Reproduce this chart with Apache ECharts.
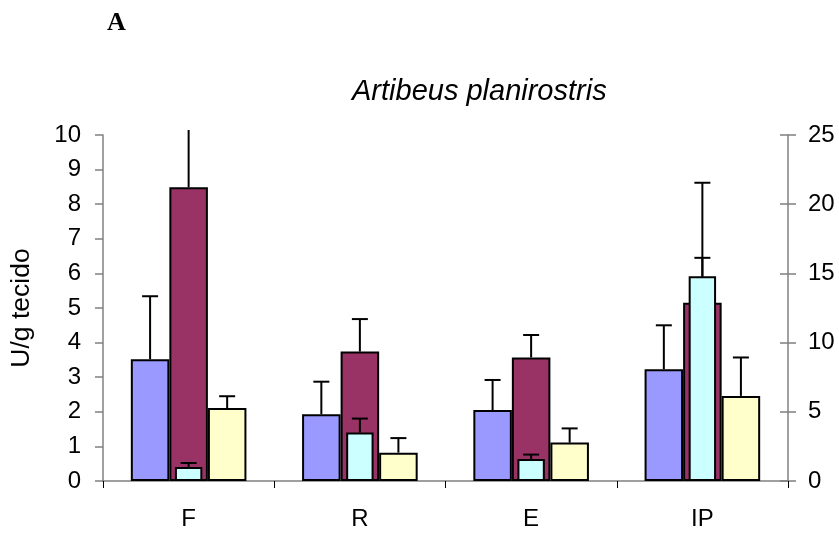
<!DOCTYPE html>
<html>
<head>
<meta charset="utf-8">
<script src="https://cdn.jsdelivr.net/npm/echarts@6/dist/echarts.min.js"></script>
<style>html,body{margin:0;padding:0;background:#fff}#c{width:839px;height:536px}</style>
</head>
<body>
<div id="c"></div>
<script>
// ---- data ----
var categories = ['F', 'R', 'E', 'IP'];
var leftTicks = [0, 1, 2, 3, 4, 5, 6, 7, 8, 9, 10];
var rightTicks = [0, 5, 10, 15, 20, 25];
// primary (left axis, U/g tecido)
var blueVals   = [3.52, 1.93, 2.05, 3.23];
var blueErr    = [1.82, 0.94, 0.87, 1.27];
var maroonVals = [8.49, 3.74, 3.57, 5.15];
var maroonErr  = [2.30, 0.94, 0.65, 1.30];
var yellowVals = [2.11, 0.82, 1.11, 2.46];
var yellowErr  = [0.34, 0.42, 0.41, 1.11];
// secondary (right axis)
var cyanVals   = [1.01, 3.50, 1.59, 14.80];
var cyanErr    = [0.29, 1.01, 0.32, 6.75];

var FONT = '"Liberation Sans", Arial, sans-serif';
var BAR_FRAC = 0.225;   // width of each primary bar as share of category
var CYAN_FRAC = 0.16;

function errSeries(vals, errs, xIdx, yIdx, slot, z) {
  var data = vals.map(function (v, i) { return [i, v, v + errs[i]]; });
  return {
    type: 'custom',
    xAxisIndex: xIdx,
    yAxisIndex: yIdx,
    z: z,
    silent: true,
    data: data,
    encode: { x: 0, y: [1, 2] },
    renderItem: function (params, api) {
      var cat = api.value(0);
      var base = api.coord([cat, api.value(1)]);
      var top = api.coord([cat, api.value(2)]);
      var catW = api.size([1, 0])[0];
      var x = base[0] + slot * catW * BAR_FRAC;
      var cs = params.coordSys;
      var minY = cs.y - 5;
      var capped = true;
      var ty = top[1];
      if (ty < minY) { ty = minY; capped = false; }
      var children = [{
        type: 'line',
        shape: { x1: x, y1: base[1], x2: x, y2: ty },
        style: { stroke: '#000', lineWidth: 2 }
      }];
      if (capped) {
        children.push({
          type: 'line',
          shape: { x1: x - 8, y1: ty, x2: x + 8, y2: ty },
          style: { stroke: '#000', lineWidth: 2 }
        });
      }
      return { type: 'group', children: children };
    }
  };
}

function barSeries(name, vals, color, xIdx, yIdx, width, z) {
  return {
    name: name,
    type: 'bar',
    xAxisIndex: xIdx,
    yAxisIndex: yIdx,
    data: vals,
    barWidth: width,
    barGap: '0%',
    z: z,
    itemStyle: { color: color, borderColor: '#000', borderWidth: 2 },
    emphasis: { disabled: true }
  };
}

var chart = echarts.init(document.getElementById('c'), null, { renderer: 'canvas' });
var axisGrey = '#808080';
chart.setOption({
  animation: false,
  backgroundColor: '#fff',
  title: {
    text: 'Artibeus planirostris',
    left: 347, top: 72,
    textStyle: { fontFamily: FONT, fontStyle: 'italic', fontWeight: 'normal', fontSize: 29, color: '#000' }
  },
  graphic: [{
    type: 'text', left: 107, top: 10,
    style: { text: 'A', fontFamily: '"Liberation Serif", "Times New Roman", serif', fontWeight: 'bold', fontSize: 26, fill: '#000' }
  }],
  grid: { left: 103, right: 51, top: 135, bottom: 55, containLabel: false },
  xAxis: [{
    type: 'category',
    data: categories,
    boundaryGap: true,
    axisLine: { lineStyle: { color: axisGrey, width: 1.5 } },
    axisTick: { show: true, alignWithLabel: false, length: 7, lineStyle: { color: '#000', width: 1 } },
    axisLabel: { color: '#000', fontFamily: FONT, fontSize: 24, margin: 26 },
    splitLine: { show: false }
  }, {
    type: 'category',
    data: categories,
    show: false,
    gridIndex: 0
  }],
  yAxis: [{
    type: 'value', min: 0, max: 10, interval: 1, position: 'left',
    name: 'U/g tecido', nameLocation: 'middle', nameGap: 68, nameRotate: 90,
    nameTextStyle: { color: '#000', fontFamily: FONT, fontSize: 26.5 },
    axisLine: { show: true, lineStyle: { color: axisGrey, width: 1.5 } },
    axisTick: { show: true, length: 8, lineStyle: { color: axisGrey, width: 1.5 } },
    axisLabel: { color: '#000', fontFamily: FONT, fontSize: 24, margin: 22,
      formatter: function (v) { return leftTicks.indexOf(v) >= 0 ? String(v) : ''; } },
    splitLine: { show: false }
  }, {
    type: 'value', min: 0, max: 25, interval: 5, position: 'right',
    axisLine: { show: true, lineStyle: { color: axisGrey, width: 1.5 } },
    axisTick: { show: true, length: 8, lineStyle: { color: axisGrey, width: 1.5 } },
    axisLabel: { color: '#000', fontFamily: FONT, fontSize: 24, margin: 20,
      formatter: function (v) { return rightTicks.indexOf(v) >= 0 ? String(v) : ''; } },
    splitLine: { show: false }
  }, {
    type: 'value', min: 0, max: 25, interval: 5, position: 'right',
    axisLine: { show: false },
    axisTick: { show: true, inside: true, length: 8, lineStyle: { color: axisGrey, width: 1.5 } },
    axisLabel: { show: false },
    splitLine: { show: false }
  }],
  series: [
    barSeries('s1', blueVals, '#9999FF', 0, 0, (BAR_FRAC * 100) + '%', 2),
    barSeries('s2', maroonVals, '#993366', 0, 0, (BAR_FRAC * 100) + '%', 2),
    barSeries('s3', yellowVals, '#FFFFCC', 0, 0, (BAR_FRAC * 100) + '%', 2),
    errSeries(blueVals, blueErr, 0, 0, -1, 3),
    errSeries(maroonVals, maroonErr, 0, 0, 0, 3),
    errSeries(yellowVals, yellowErr, 0, 0, 1, 3),
    barSeries('s4', cyanVals, '#CCFFFF', 1, 1, (CYAN_FRAC * 100) + '%', 4),
    errSeries(cyanVals, cyanErr, 1, 1, 0, 5)
  ]
});
</script>
</body>
</html>
